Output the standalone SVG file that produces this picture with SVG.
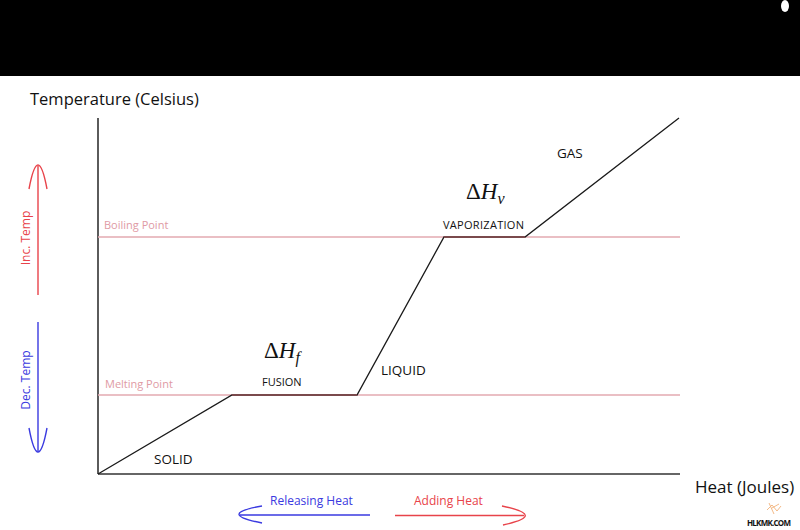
<svg xmlns="http://www.w3.org/2000/svg" width="800" height="530" viewBox="0 0 800 530">
<style>
text{font-family:"Open Sans","Noto Sans","Liberation Sans",sans-serif;fill:#111}
.ax{stroke:#333;stroke-width:1.6;fill:none}
.ref{stroke:#e3aab0;stroke-width:1.3;fill:none}
.reft{fill:#e09aa4;font-size:11px}
.curve{stroke:#1a1a1a;stroke-width:1.3;fill:none}
.plat{stroke:#7a4a4c;stroke-width:1.8;fill:none}
.lab{font-size:13.5px}
.small{font-size:11px}
.red{stroke:#e8434a;stroke-width:1.4;fill:none}
.blue{stroke:#3a3ae0;stroke-width:1.4;fill:none}
.math{font-family:"Liberation Serif","DejaVu Serif",serif;font-size:23px;fill:#111}
</style>
<rect x="0" y="0" width="800" height="530" fill="#ffffff"/>
<rect x="0" y="0" width="800" height="76" fill="#000000"/>
<ellipse cx="785" cy="6" rx="4" ry="6" fill="#ffffff"/>

<g id="axes">
<line class="ax" x1="98" y1="118" x2="98" y2="474"/>
<line class="ax" x1="98" y1="474" x2="680" y2="474"/>
<text x="30" y="105" font-size="16.5">Temperature (Celsius)</text>
<text x="695" y="493" font-size="17">Heat (Joules)</text>
</g>

<g id="reference-lines">
<line class="ref" x1="98" y1="237" x2="680" y2="237"/>
<line class="ref" x1="98" y1="395" x2="680" y2="395"/>
<text class="reft" x="104" y="229">Boiling Point</text>
<text class="reft" x="105" y="388">Melting Point</text>
</g>

<g id="connectors">
<polyline class="curve" points="98,474 232,395 357,395 444,237 525,237 679,118"/>
<line class="plat" x1="232" y1="395" x2="357" y2="395"/>
<line class="plat" x1="444" y1="237" x2="525" y2="237"/>
</g>

<g id="solid"><text class="lab" x="154" y="464">SOLID</text></g>
<g id="fusion">
<text class="math" x="264" y="358">Δ<tspan font-style="italic">H</tspan><tspan font-style="italic" font-size="16" dy="5">f</tspan></text>
<text class="small" x="262" y="386">FUSION</text>
</g>
<g id="liquid"><text class="lab" x="381" y="375">LIQUID</text></g>
<g id="vaporization">
<text class="math" x="466" y="199">Δ<tspan font-style="italic">H</tspan><tspan font-style="italic" font-size="16" dy="5">v</tspan></text>
<text class="small" x="443" y="229" textLength="81">VAPORIZATION</text>
</g>
<g id="gas"><text class="lab" x="557" y="158">GAS</text></g>

<g id="inc-temp">
<path class="red" d="M29,189 Q38,141 47,189"/>
<line class="red" x1="38" y1="166" x2="38" y2="295"/>
<text transform="translate(30,238) rotate(-90)" text-anchor="middle" font-size="12" style="fill:#e8434a">Inc. Temp</text>
</g>
<g id="dec-temp">
<path class="blue" d="M29,428 Q38,476 47,428"/>
<line class="blue" x1="38" y1="322" x2="38" y2="451"/>
<text transform="translate(30,380) rotate(-90)" text-anchor="middle" font-size="12" style="fill:#3a3ae0">Dec. Temp</text>
</g>
<g id="releasing-heat">
<path class="blue" d="M262,506 Q216,514 262,523"/>
<line class="blue" x1="240" y1="515" x2="370" y2="515"/>
<text x="270" y="505" font-size="12" style="fill:#3a3ae0">Releasing Heat</text>
</g>
<g id="adding-heat">
<path class="red" d="M502,506 Q548,515.5 503,525"/>
<line class="red" x1="395" y1="515.5" x2="524" y2="515.5"/>
<text x="414" y="505" font-size="12" style="fill:#e8434a">Adding Heat</text>
</g>

<g id="watermark">
<path d="M767,510 L772,505 L777,511 L781,506 M769,503 L774,514 M779,504 L772,508" stroke="#f2b27a" stroke-width="0.9" fill="none"/>
<text x="747" y="526" font-size="8" font-weight="bold" font-family="Liberation Sans,sans-serif" textLength="44">HLKMK.COM</text>
</g>
</svg>
